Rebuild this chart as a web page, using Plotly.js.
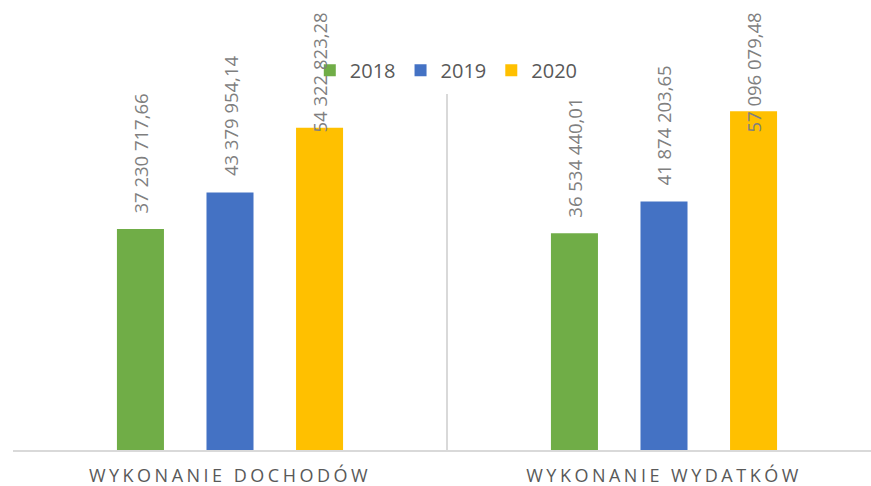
<!DOCTYPE html>
<html>
<head>
<meta charset="utf-8">
<script src="https://cdn.plot.ly/plotly-3.0.1.min.js"></script>
<style>
  html, body { margin: 0; padding: 0; background: #fff; overflow: hidden; }
  #chart { width: 871px; height: 486px; }
  .xtick text { letter-spacing: 3.5px; }
</style>
</head>
<body>
<div id="chart"></div>
<script>
// ---- data ----
const categories = ['WYKONANIE DOCHODÓW', 'WYKONANIE WYDATKÓW'];
const years = ['2018', '2019', '2020'];
const v2018 = [37230717.66, 36534440.01];
const v2019 = [43379954.14, 41874203.65];
const v2020 = [54322823.28, 57096079.48];
const colors = ['#70ad47', '#4472c4', '#ffc000'];

const seriesValues = [v2018, v2019, v2020];

function fmt(v) {
  const parts = v.toFixed(2).split('.');
  const intPart = parts[0].replace(/\B(?=(\d{3})+(?!\d))/g, ' ');
  return intPart + ',' + parts[1];
}

const bargap = 0.381;
const bargroupgap = 0.475;
const slot = (1 - bargap) / years.length;

const traces = years.map((yr, i) => ({
  type: 'bar',
  name: yr,
  x: categories,
  y: seriesValues[i],
  marker: { color: colors[i] },
  hoverinfo: 'skip'
}));

const annotations = [];
years.forEach((yr, i) => {
  categories.forEach((cat, c) => {
    annotations.push({
      xref: 'x', yref: 'y',
      x: c + (i - (years.length - 1) / 2) * slot,
      y: seriesValues[i][c],
      text: fmt(seriesValues[i][c]),
      textangle: -90,
      showarrow: false,
      xanchor: 'center',
      yanchor: 'bottom',
      yshift: 15,
      borderpad: 0,
      font: { family: 'Open Sans, sans-serif', size: 18.5, color: '#7f7f7f' }
    });
  });
});

const plotLeft = 13, plotRight = 0;
const catPx = 434;
const plotW = 871 - plotLeft - plotRight;

const layout = {
  width: 871,
  height: 486,
  margin: { l: plotLeft, r: plotRight, t: 94, b: 36, pad: 0 },
  paper_bgcolor: '#ffffff',
  plot_bgcolor: '#ffffff',
  barmode: 'group',
  bargap: bargap,
  bargroupgap: bargroupgap,
  showlegend: true,
  legend: {
    orientation: 'h',
    x: 0.505, xanchor: 'center',
    y: 1.067, yanchor: 'middle',
    font: { family: 'Open Sans, sans-serif', size: 20, color: '#595959' },
    bgcolor: 'rgba(0,0,0,0)'
  },
  xaxis: {
    type: 'category',
    range: [-0.5, -0.5 + plotW / catPx],
    tickson: 'boundaries',
    showgrid: true,
    gridcolor: '#d9d9d9',
    gridwidth: 1.5,
    showline: true,
    linecolor: '#d9d9d9',
    linewidth: 2,
    ticks: '',
    ticklabelstandoff: 8,
    zeroline: false,
    tickfont: { family: 'Open Sans, sans-serif', size: 18, color: '#595959' },
    fixedrange: true
  },
  yaxis: {
    range: [0, 60000000],
    showgrid: false,
    zeroline: false,
    showticklabels: false,
    ticks: '',
    showline: false,
    fixedrange: true
  },
  annotations: annotations
};

Plotly.newPlot('chart', traces, layout, { staticPlot: true, displayModeBar: false }).then(gd => {
  // keep labels inside the chart: push down any label whose top would leave the chart area
  const minTop = 12;
  const els = gd.querySelectorAll('.annotation');
  const updates = {};
  els.forEach((el, k) => {
    const r = el.getBoundingClientRect();
    if (r.top < minTop) {
      updates['annotations[' + k + '].yshift'] = annotations[k].yshift - (minTop - r.top);
    }
  });
  if (Object.keys(updates).length) Plotly.relayout(gd, updates);
});
</script>
</body>
</html>
